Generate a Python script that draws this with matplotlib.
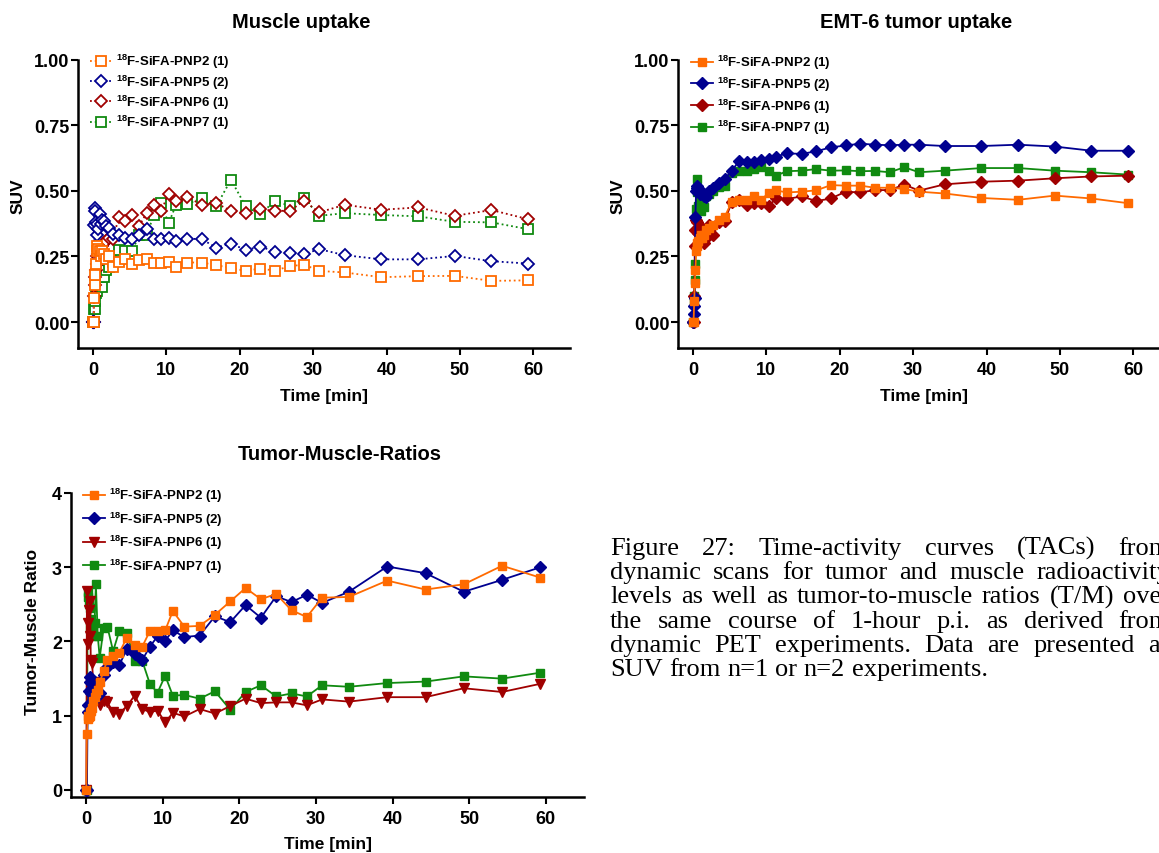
import matplotlib
matplotlib.use("Agg")
import matplotlib.pyplot as plt

plt.rcParams["font.family"] = ["Liberation Sans", "DejaVu Sans"]
plt.rcParams["font.weight"] = "bold"
plt.rcParams["mathtext.fontset"] = "custom"
plt.rcParams["mathtext.rm"] = "Liberation Sans:bold"
plt.rcParams["mathtext.bf"] = "Liberation Sans:bold"
plt.rcParams["mathtext.it"] = "Liberation Sans:bold"

# ---------------------------------------------------------------- data
time_min = [0.0, 0.08, 0.17, 0.25, 0.33, 0.42, 0.5, 0.58, 0.75, 0.92, 1.08, 1.25,
            1.5, 1.75, 2.25, 2.75, 3.5,
            4.3, 5.3, 6.3, 7.3, 8.3, 9.3, 10.3, 11.3,
            12.8, 14.8, 16.8, 18.8, 20.8, 22.8, 24.8, 26.8, 28.8, 30.8,
            34.3, 39.3, 44.3, 49.3, 54.3, 59.3]

compounds = ["PNP2", "PNP5", "PNP6", "PNP7"]
n_experiments = [1, 2, 1, 1]

muscle_pnp2 = [0, 0.0, 0.09, 0.14, 0.18, 0.22, 0.27, 0.29, 0.28, 0.27, 0.25, 0.27, 0.26, 0.24, 0.25, 0.21, 0.23,
               0.24, 0.22, 0.235, 0.24, 0.225, 0.227, 0.229, 0.21,
               0.227, 0.227, 0.217, 0.206, 0.195, 0.204, 0.196, 0.213, 0.219, 0.195,
               0.189, 0.171, 0.175, 0.176, 0.157, 0.159]
muscle_pnp5 = [0, 0.0, 0.37, 0.436, 0.424, 0.38, 0.373, 0.33, 0.355, 0.41, 0.375, 0.39, 0.386, 0.367, 0.36, 0.335, 0.33,
               0.322, 0.316, 0.33, 0.355, 0.318, 0.316, 0.322, 0.31,
               0.318, 0.316, 0.284, 0.299, 0.275, 0.288, 0.268, 0.262, 0.259, 0.278,
               0.255, 0.239, 0.239, 0.252, 0.232, 0.223]
muscle_pnp6 = [0, 0.0, 0.1, 0.14, 0.17, 0.2, 0.22, 0.25, 0.26, 0.27, 0.28, 0.29, 0.3, 0.31, 0.32, 0.316, 0.399,
               0.386, 0.408, 0.367, 0.415, 0.447, 0.424, 0.49, 0.461,
               0.478, 0.447, 0.453, 0.424, 0.414, 0.43, 0.424, 0.424, 0.462, 0.418,
               0.447, 0.428, 0.437, 0.405, 0.427, 0.392]
muscle_pnp7 = [0, 0.0, 0.05, 0.05, 0.08, 0.11, 0.12, 0.14, 0.16, 0.19, 0.2, 0.135, 0.17, 0.2, 0.21, 0.23, 0.275,
               0.27, 0.269, 0.331, 0.331, 0.408, 0.453, 0.376, 0.446,
               0.45, 0.471, 0.441, 0.543, 0.441, 0.411, 0.462, 0.443, 0.473, 0.405,
               0.415, 0.408, 0.403, 0.382, 0.38, 0.354]

tumor_pnp2 = [0, 0.0, 0.08, 0.15, 0.2, 0.27, 0.29, 0.3, 0.31, 0.32, 0.33, 0.32, 0.33, 0.35, 0.36, 0.37, 0.39,
              0.40, 0.459, 0.464, 0.466, 0.479, 0.466, 0.492, 0.502,
              0.494, 0.497, 0.502, 0.522, 0.52, 0.52, 0.512, 0.512, 0.507, 0.497,
              0.49, 0.473, 0.466, 0.482, 0.471, 0.453]
tumor_pnp5 = [0, 0.03, 0.06, 0.09, 0.4, 0.5, 0.52, 0.51, 0.5, 0.49, 0.5, 0.49, 0.48, 0.475, 0.5, 0.51, 0.53,
              0.545, 0.577, 0.615, 0.609, 0.611, 0.619, 0.622, 0.631,
              0.643, 0.641, 0.651, 0.666, 0.673, 0.68, 0.676, 0.674, 0.676, 0.676,
              0.671, 0.671, 0.676, 0.669, 0.653, 0.653]
tumor_pnp6 = [0, 0.0, 0.1, 0.29, 0.35, 0.39, 0.38, 0.35, 0.34, 0.345, 0.34, 0.36, 0.3, 0.32, 0.37, 0.33, 0.38,
              0.386, 0.456, 0.465, 0.447, 0.454, 0.454, 0.441, 0.471,
              0.469, 0.479, 0.461, 0.471, 0.497, 0.494, 0.503, 0.503, 0.524, 0.501,
              0.525, 0.535, 0.539, 0.548, 0.555, 0.558]
tumor_pnp7 = [0, 0.07, 0.1, 0.16, 0.22, 0.43, 0.545, 0.494, 0.443, 0.45, 0.424, 0.456, 0.44, 0.481, 0.488, 0.5, 0.513,
              0.52, 0.567, 0.575, 0.575, 0.583, 0.592, 0.577, 0.558,
              0.575, 0.577, 0.583, 0.577, 0.578, 0.575, 0.576, 0.571, 0.59, 0.571,
              0.577, 0.587, 0.587, 0.577, 0.571, 0.562]

ratio_pnp2 = [0, 0.75, 0.95, 1.0, 0.98, 1.05, 1.0, 1.07, 1.1, 1.2, 1.25, 1.3, 1.35, 1.45, 1.6, 1.75, 1.8,
              1.85, 2.05, 1.95, 1.93, 2.14, 2.14, 2.15, 2.41,
              2.20, 2.21, 2.36, 2.54, 2.72, 2.57, 2.64, 2.42, 2.33, 2.59,
              2.60, 2.82, 2.70, 2.77, 3.02, 2.86]
ratio_pnp5 = [0, 0.0, 1.05, 1.15, 1.33, 1.52, 1.45, 1.3, 1.35, 1.2, 1.3, 1.25, 1.28, 1.3, 1.55, 1.65, 1.72,
              1.68, 1.9, 1.83, 1.75, 1.93, 2.07, 2.01, 2.15,
              2.06, 2.08, 2.34, 2.26, 2.49, 2.32, 2.61, 2.53, 2.63, 2.52,
              2.67, 3.01, 2.92, 2.67, 2.83, 3.0]
ratio_pnp6 = [0, 2.68, 2.25, 1.96, 2.43, 2.07, 2.55, 1.75, 1.71, 1.43, 1.45, 1.3, 1.25, 1.15, 1.2, 1.18, 1.05,
              1.03, 1.13, 1.27, 1.09, 1.05, 1.07, 0.91, 1.04,
              0.99, 1.09, 1.03, 1.13, 1.23, 1.17, 1.18, 1.18, 1.14, 1.22,
              1.19, 1.25, 1.25, 1.37, 1.32, 1.43]
ratio_pnp7 = [0, 0.0, 2.66, 2.6, 2.5, 2.2, 2.45, 2.3, 2.2, 2.07, 2.25, 2.77, 2.07, 1.78, 2.18, 2.2, 1.87,
              2.14, 2.12, 1.74, 1.74, 1.43, 1.31, 1.54, 1.27,
              1.28, 1.23, 1.33, 1.08, 1.32, 1.41, 1.26, 1.30, 1.26, 1.41,
              1.39, 1.44, 1.46, 1.53, 1.50, 1.58]

x_ticks = [0, 10, 20, 30, 40, 50, 60]
suv_ticks = [0.0, 0.25, 0.5, 0.75, 1.0]
ratio_ticks = [0, 1, 2, 3, 4]

caption_lines = [
    "Figure 27:  Time-activity curves (TACs) from",
    "dynamic scans for tumor and muscle radioactivity",
    "levels as well as tumor-to-muscle ratios (T/M) over",
    "the same course of 1-hour p.i. as derived from",
    "dynamic PET experiments. Data are presented as",
    "SUV from n=1 or n=2 experiments.",
]

# ---------------------------------------------------------------- styling
colors = ["#FF6A00", "#000090", "#A00000", "#108A10"]
labels = [r"$^{18}$F-SiFA-%s (%d)" % (c, n) for c, n in zip(compounds, n_experiments)]

W, H = 1159, 854
fig = plt.figure(figsize=(W / 100, H / 100), dpi=100)


def axes_px(left, top, right, bottom):
    return fig.add_axes([left / W, 1 - bottom / H, (right - left) / W, (bottom - top) / H])


def style(ax, ylim, yticks, yfmt):
    ax.set_xlim(-2, 65)
    ax.set_ylim(*ylim)
    for s in ("top", "right"):
        ax.spines[s].set_visible(False)
    for s in ("left", "bottom"):
        ax.spines[s].set_linewidth(1.8)
    ax.set_xticks(x_ticks)
    ax.set_yticks(yticks)
    ax.set_yticklabels([yfmt % v for v in yticks])
    ax.tick_params(axis="both", direction="out", length=5, width=1.5, labelsize=13)
    ax.tick_params(axis="x", pad=4)
    ax.tick_params(axis="y", pad=1.5)
    for lab in ax.get_xticklabels() + ax.get_yticklabels():
        lab.set_fontweight("bold")


def add_legend(ax, x_px, y_px, spacing):
    ax.legend(loc="upper left", bbox_to_anchor=(x_px / W, 1 - y_px / H),
              bbox_transform=fig.transFigure, frameon=False,
              handlelength=1.7, handletextpad=0.25, borderpad=0, borderaxespad=0,
              labelspacing=spacing, prop={"weight": "bold", "size": 9.5})


# Muscle uptake: open markers, dotted lines
ax_m = axes_px(78.3, 60.7, 570, 349.3)
muscle = [muscle_pnp2, muscle_pnp5, muscle_pnp6, muscle_pnp7]
open_markers = ["s", "D", "D", "s"]
open_sizes = [6.5, 6.5, 6.5, 6.5]
for i, (vals, c, m, ms, lab) in enumerate(zip(muscle, colors, open_markers, open_sizes, labels)):
    ax_m.plot(time_min, vals, linestyle=":", color=c, lw=1.3, marker=m, ms=ms,
              mfc="white", mec=c, mew=1.3, label=lab, zorder=10 - i, clip_on=False)
style(ax_m, (-0.1, 1.0), suv_ticks, "%.2f")
add_legend(ax_m, 90, 53, 0.16)

# EMT-6 tumor uptake: filled markers, solid lines
ax_t = axes_px(678.3, 60.7, 1170, 349.3)
tumor = [tumor_pnp2, tumor_pnp5, tumor_pnp6, tumor_pnp7]
filled_markers = ["s", "D", "D", "s"]
filled_sizes = [5.8, 6.5, 6.5, 5.8]
for i, (vals, c, m, ms, lab) in enumerate(zip(tumor, colors, filled_markers, filled_sizes, labels)):
    ax_t.plot(time_min, vals, linestyle="-", color=c, lw=1.3, marker=m, ms=ms,
              mfc=c, mec=c, label=lab, zorder=10 - i, clip_on=False)
style(ax_t, (-0.1, 1.0), suv_ticks, "%.2f")
add_legend(ax_t, 691, 54, 0.27)

# Tumor-to-muscle ratios
ax_r = axes_px(71, 494, 584, 798.4)
ratios = [ratio_pnp2, ratio_pnp5, ratio_pnp6, ratio_pnp7]
ratio_markers = ["s", "D", "v", "s"]
ratio_sizes = [6.0, 6.5, 7.5, 6.0]
for i, (vals, c, m, ms, lab) in enumerate(zip(ratios, colors, ratio_markers, ratio_sizes, labels)):
    ax_r.plot(time_min, vals, linestyle="-", color=c, lw=1.3, marker=m, ms=ms,
              mfc=c, mec=c, label=lab, zorder=10 - i, clip_on=False)
style(ax_r, (-0.1, 4.0), ratio_ticks, "%d")
add_legend(ax_r, 83, 487, 0.4)

# Titles and axis labels
title_kw = dict(fontsize=14.5, fontweight="bold", ha="center", va="center")
fig.text(301 / W, 1 - 22 / H, "Muscle uptake", **title_kw)
fig.text(916 / W, 1 - 22 / H, "EMT-6 tumor uptake", **title_kw)
fig.text(340 / W, 1 - 455 / H, "Tumor-Muscle-Ratios", **title_kw)

label_kw = dict(fontsize=12.5, fontweight="bold", ha="center", va="center")
fig.text(324 / W, 1 - 397 / H, "Time [min]", **label_kw)
fig.text(924 / W, 1 - 397 / H, "Time [min]", **label_kw)
fig.text(328 / W, 1 - 845 / H, "Time [min]", **label_kw)
fig.text(18.5 / W, 1 - 196 / H, "SUV", rotation=90, **label_kw)
fig.text(618.5 / W, 1 - 196 / H, "SUV", rotation=90, **label_kw)
fig.text(33 / W, 1 - 632 / H, "Tumor-Muscle Ratio", rotation=90, **label_kw)

# Justified caption, placed word by word
renderer = fig.canvas.get_renderer()
cap_kw = dict(fontsize=19, family=["Liberation Serif", "DejaVu Serif"],
              fontweight="normal", ha="left", va="baseline")
x_left, x_right = 610.0, 1170.0
probe = fig.text(0, 0, "a a", **cap_kw)
probe2 = fig.text(0, 0, "aa", **cap_kw)
space_w = probe.get_window_extent(renderer).width - probe2.get_window_extent(renderer).width
probe.remove()
probe2.remove()
for k, line in enumerate(caption_lines):
    y_px = 555 + 24.2 * k
    words = line.split()
    items = [fig.text(0, 1 - y_px / H, w, **cap_kw) for w in words]
    widths = [t.get_window_extent(renderer).width for t in items]
    last = k == len(caption_lines) - 1
    gap = space_w if last else (x_right - x_left - sum(widths)) / (len(words) - 1)
    x = x_left
    for t, w in zip(items, widths):
        t.set_x(x / W)
        x += w + gap

fig.savefig("out.png", dpi=100)
